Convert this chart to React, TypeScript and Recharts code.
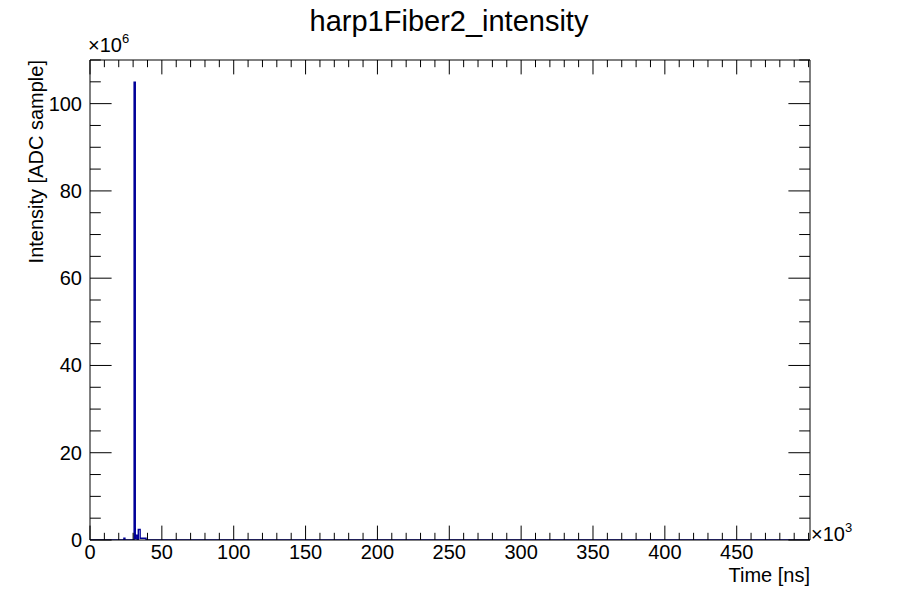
import { Line, LineChart, XAxis, YAxis } from "recharts";

// histogram bins (time in 10^3 ns, intensity in 10^6 ADC), drawn as steps
const timeK = [0, 23.6, 24.3, 30.7, 31.5, 31.9, 32.9, 33.6, 34.9, 39.0, 501];
const intensityM = [0, 0.4, 0, 104.9, 0.3, 1.1, 0.1, 2.4, 0.4, 0, 0];

const xMajor = [0, 50, 100, 150, 200, 250, 300, 350, 400, 450];
const yMajor = [0, 20, 40, 60, 80, 100];
const xDomain = [0, 501];
const yDomain = [0, 110];

const xTicks = Array.from({ length: 51 }, (_, i) => i * 10);
const yTicks = Array.from({ length: 23 }, (_, i) => i * 5);

const data = timeK.map((t, i) => ({ t, v: intensityM[i] }));

const FONT = "'Liberation Sans', Arial, Helvetica, sans-serif";
const LABEL_SIZE = 20;

function BottomTick({ x, y, payload }: any) {
  const major = xMajor.includes(payload.value);
  return (
    <g>
      <line x1={x} x2={x} y1={y} y2={y - (major ? 14.4 : 7.2)} stroke="#000" />
      {major ? (
        <text x={x} y={y + 19} textAnchor="middle" fontSize={LABEL_SIZE} fill="#000">
          {payload.value}
        </text>
      ) : null}
    </g>
  );
}

function TopTick({ x, y, payload }: any) {
  const major = xMajor.includes(payload.value);
  return <line x1={x} x2={x} y1={y} y2={y + (major ? 14.4 : 7.2)} stroke="#000" />;
}

function LeftTick({ x, y, payload }: any) {
  const major = yMajor.includes(payload.value);
  return (
    <g>
      <line x1={x} x2={x + (major ? 21.6 : 10.8)} y1={y} y2={y} stroke="#000" />
      {major ? (
        <text x={x - 8} y={y + 7} textAnchor="end" fontSize={LABEL_SIZE} fill="#000">
          {payload.value}
        </text>
      ) : null}
    </g>
  );
}

function RightTick({ x, y, payload }: any) {
  const major = yMajor.includes(payload.value);
  return <line x1={x} x2={x - (major ? 21.6 : 10.8)} y1={y} y2={y} stroke="#000" />;
}

export default function App() {
  return (
    <div style={{ position: "absolute", left: 0, top: 0, width: 900, height: 600, background: "#fff", fontFamily: FONT }}>
      <LineChart width={900} height={600} data={data} margin={{ top: 59, right: 89, bottom: 30, left: 30 }}>
        <XAxis
          xAxisId="b"
          dataKey="t"
          type="number"
          domain={xDomain}
          ticks={xTicks}
          interval={0}
          allowDataOverflow
          height={30}
          tickSize={0}
          tickLine={false}
          tickMargin={0}
          axisLine={{ stroke: "#000" }}
          tick={(p: any) => <BottomTick {...p} />}
        />
        <XAxis
          xAxisId="t"
          dataKey="t"
          orientation="top"
          type="number"
          domain={xDomain}
          ticks={xTicks}
          interval={0}
          allowDataOverflow
          height={1}
          tickSize={0}
          tickLine={false}
          tickMargin={0}
          axisLine={{ stroke: "#000" }}
          tick={(p: any) => <TopTick {...p} />}
        />
        <YAxis
          yAxisId="l"
          type="number"
          domain={yDomain}
          ticks={yTicks}
          interval={0}
          allowDataOverflow
          width={60}
          tickSize={0}
          tickLine={false}
          tickMargin={0}
          axisLine={{ stroke: "#000" }}
          tick={(p: any) => <LeftTick {...p} />}
        />
        <YAxis
          yAxisId="r"
          orientation="right"
          type="number"
          domain={yDomain}
          ticks={yTicks}
          interval={0}
          allowDataOverflow
          width={1}
          tickSize={0}
          tickLine={false}
          tickMargin={0}
          axisLine={{ stroke: "#000" }}
          tick={(p: any) => <RightTick {...p} />}
        />
        <Line
          xAxisId="t"
          yAxisId="r"
          dataKey="v"
          type="stepAfter"
          stroke="none"
          dot={false}
          activeDot={false}
          isAnimationActive={false}
        />
        <Line
          xAxisId="b"
          yAxisId="l"
          dataKey="v"
          type="stepAfter"
          stroke="#000099"
          strokeWidth={1.4}
          dot={false}
          activeDot={false}
          isAnimationActive={false}
        />
      </LineChart>
      <svg width={900} height={600} style={{ position: "absolute", left: 0, top: 0, pointerEvents: "none" }}>
        <text x={449} y={31} textAnchor="middle" fontSize={29} fill="#000">
          harp1Fiber2_intensity
        </text>
        <text x={88} y={52} fontSize={LABEL_SIZE} fill="#000">
          ×10
          <tspan fontSize={13} dy={-9}>6</tspan>
        </text>
        <text x={811} y={541} fontSize={LABEL_SIZE} fill="#000">
          ×10
          <tspan fontSize={13} dy={-9}>3</tspan>
        </text>
        <text x={810} y={582} textAnchor="end" fontSize={LABEL_SIZE} fill="#000">
          Time [ns]
        </text>
        <text x={43} y={60} textAnchor="end" fontSize={LABEL_SIZE} fill="#000" transform="rotate(-90 43 60)">
          Intensity [ADC sample]
        </text>
      </svg>
    </div>
  );
}
